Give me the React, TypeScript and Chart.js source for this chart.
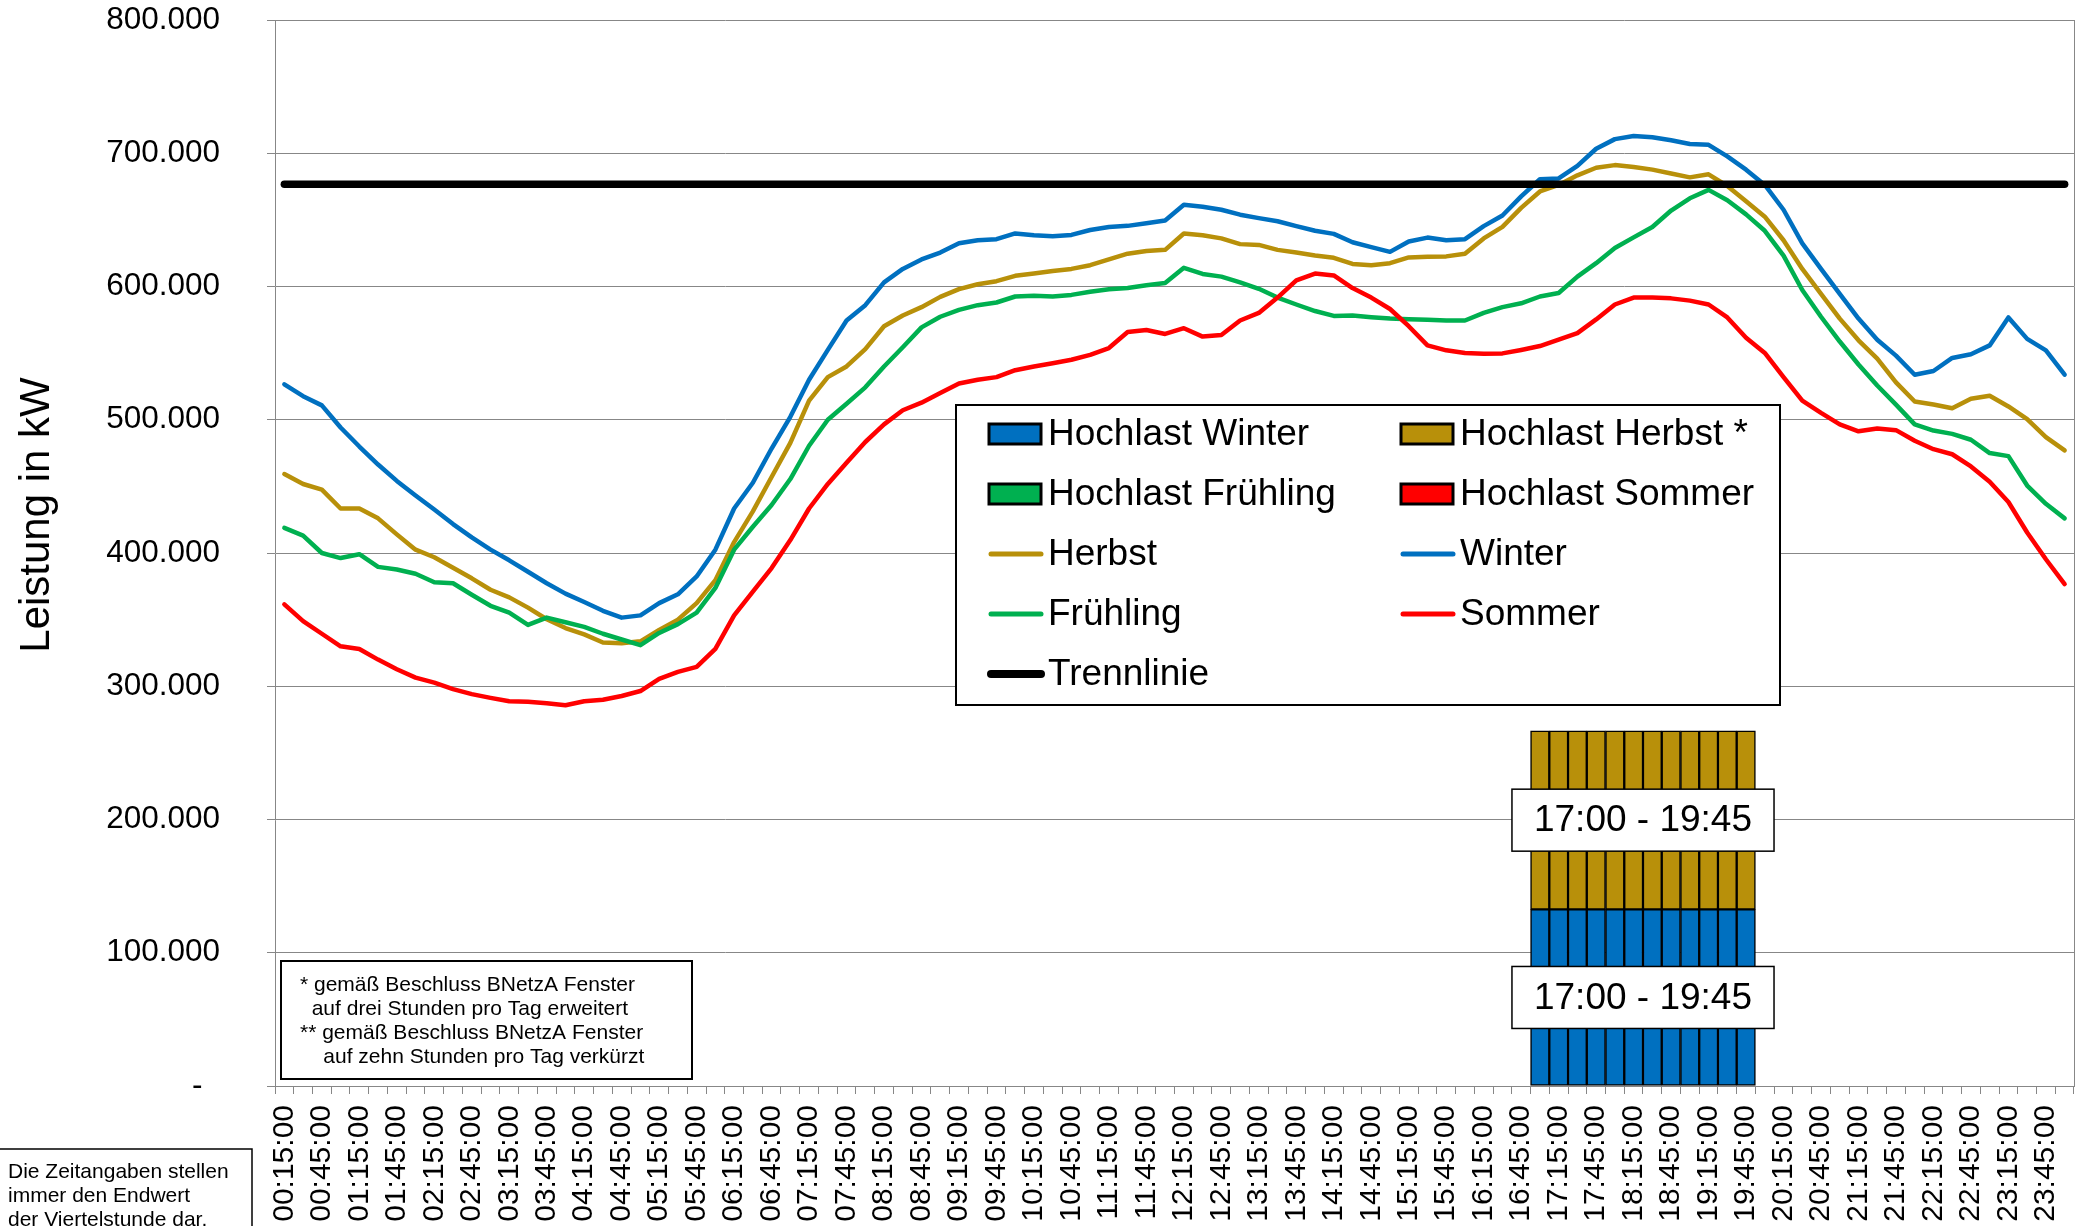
import React, { useEffect, useRef } from 'react';
import { Chart, registerables } from 'chart.js';

Chart.register(...registerables);

const FONT = "'Liberation Sans', Arial, Helvetica, sans-serif";
const GRID = '#878787';

const pad2 = (n: number) => (n < 10 ? '0' + n : String(n));
// quarter-hour end times 00:15:00 ... 24:00 (00:00:00)
const categories: string[] = Array.from({ length: 96 }, (_, k) => {
  const m = (k + 1) * 15;
  return `${pad2(Math.floor(m / 60) % 24)}:${pad2(m % 60)}:00`;
});

// series values in kW
const winter = [
  526600, 517700, 510800, 494200, 479900, 466400, 454100, 443200, 432600, 421700, 411700, 402500,
  394500, 385900, 377300, 369500, 363200, 356600, 351500, 353200, 362400, 369000, 382400, 402500,
  433400, 452700, 478400, 502200, 530000, 552400, 574500, 586000, 603100, 613200, 620300, 625500,
  632400, 634700, 635500, 639800, 638400, 637800, 638700, 642400, 644700, 645500, 647500, 649600,
  661300, 659900, 657600, 653900, 651300, 649000, 645300, 641800, 639500, 633200, 629500, 626000,
  633800, 636700, 634700, 635500, 645300, 653300, 667600, 680500, 681100, 690500, 703400, 710600,
  712900, 712000, 709700, 706900, 706300, 697700, 687700, 676200, 657600, 632400, 613200, 594500,
  575900, 560100, 548100, 533800, 536600, 546400, 549200, 555800, 576800, 560700, 552100, 533800,
];
const herbst = [
  459200, 451800, 447500, 433400, 433400, 426000, 414000, 402500, 396800, 389000, 381000, 372400,
  366700, 359000, 350300, 343700, 338900, 332800, 332300, 333700, 342300, 350000, 362400, 379600,
  408200, 431200, 457000, 482700, 514300, 532000, 540000, 553000, 570200, 578200, 584500, 592200,
  598000, 601700, 604000, 608000, 609700, 611700, 613200, 616000, 620300, 624600, 626600, 627500,
  639800, 638400, 636100, 631800, 631200, 627500, 625500, 623200, 621500, 616900, 616000, 617500,
  621800, 622300, 622600, 624600, 636100, 644700, 659000, 671300, 676200, 683400, 689100, 691100,
  689700, 687700, 684800, 681900, 684200, 675400, 663900, 652400, 634700, 613200, 594500, 575900,
  559600, 545800, 528000, 513700, 511400, 508600, 515700, 518000, 510000, 500500, 487000, 477000,
];
const fruehling = [
  418800, 413100, 400000, 396200, 399100, 389600, 387600, 384400, 378100, 377300, 368700, 360400,
  355200, 346000, 351500, 348000, 344600, 339400, 335100, 330800, 340000, 346600, 355200, 373800,
  402500, 419700, 436000, 455500, 480500, 500000, 512000, 524300, 540000, 554400, 569300, 577300,
  582500, 586000, 588000, 592500, 593000, 592500, 593700, 596000, 598000, 598900, 600900, 602600,
  614000, 609400, 607400, 603100, 598300, 591700, 586500, 581600, 577900, 578200, 577000, 576000,
  575500, 575000, 574500, 574500, 580200, 584500, 587400, 592500, 595100, 607400, 617500, 628900,
  636900, 644700, 657000, 666200, 672500, 664700, 654100, 641800, 623200, 597400, 577300, 558700,
  541500, 525700, 511400, 496500, 491900, 489400, 485000, 475000, 472700, 450600, 436900, 426000,
];
const sommer = [
  361500, 348900, 339400, 330000, 328000, 320000, 312800, 306500, 302700, 297900, 294100, 291300,
  288700, 288400, 287300, 285800, 288700, 289900, 292700, 296400, 305600, 310800, 314500, 328000,
  353200, 371000, 388700, 409700, 433400, 451800, 467800, 483300, 496500, 507100, 512800, 520000,
  527200, 530000, 532000, 537200, 540000, 542400, 545000, 548700, 553800, 565900, 567300, 564400,
  568700, 562400, 563600, 574500, 580200, 591700, 604600, 609700, 608300, 598800, 591700, 583100,
  570200, 555800, 552100, 550100, 549500, 549800, 552400, 555300, 560100, 565000, 575300, 586500,
  591700, 591700, 591100, 589400, 586500, 576800, 561600, 550100, 532000, 514300, 505100, 496500,
  491300, 493400, 492200, 484200, 477900, 474100, 465000, 453500, 438300, 415400, 395300, 376700,
];
const trennlinieValue = 676800;

// Hochlast window and bar heights
const hochlastStart = '17:00:00';
const hochlastEnd = '19:45:00';
const hochlastWinterValue = 132500;
const hochlastHerbstValue = 134000;

const yTicks = [0, 100000, 200000, 300000, 400000, 500000, 600000, 700000, 800000];

const startIdx = categories.indexOf(hochlastStart);
const endIdx = categories.indexOf(hochlastEnd);
const windowBars = (v: number | null) =>
  categories.map((_, i) => (v !== null && i >= startIdx && i <= endIdx ? v : null));
const barLabel = `${hochlastStart.slice(0, 5)} - ${hochlastEnd.slice(0, 5)}`;

const fmt = (v: number) => (v === 0 ? '-  ' : String(v).replace(/\B(?=(\d{3})+(?!\d))/g, '.'));

const COLORS = {
  winter: '#0070C0',
  herbst: '#B8900A',
  fruehling: '#00B050',
  sommer: '#FF0000',
  trenn: '#000000',
};

const overlay = {
  id: 'overlay',
  beforeDatasetsDraw(chart: any) {
    const { ctx, chartArea: ca } = chart;
    ctx.save();
    ctx.strokeStyle = GRID;
    ctx.lineWidth = 1;
    ctx.beginPath();
    ctx.moveTo(ca.right + 0.5, ca.top);
    ctx.lineTo(ca.right + 0.5, ca.bottom);
    ctx.stroke();
    ctx.restore();
  },
  afterDatasetsDraw(chart: any) {
    const { ctx } = chart;
    [0, 1].forEach((di) => {
      const meta = chart.getDatasetMeta(di);
      const a: any = meta.data[startIdx];
      const b: any = meta.data[endIdx];
      if (!a || !b) return;
      const cx = (a.x + b.x) / 2;
      const cy = (a.y + a.base) / 2;
      ctx.save();
      ctx.font = `37px ${FONT}`;
      const w = ctx.measureText(barLabel).width + 44;
      const h = 62;
      ctx.fillStyle = '#ffffff';
      ctx.fillRect(cx - w / 2, cy - h / 2, w, h);
      ctx.strokeStyle = '#000';
      ctx.lineWidth = 1.5;
      ctx.strokeRect(cx - w / 2, cy - h / 2, w, h);
      ctx.fillStyle = '#000';
      ctx.textAlign = 'center';
      ctx.textBaseline = 'middle';
      ctx.fillText(barLabel, cx, cy + 1);
      ctx.restore();
    });
  },
  afterDraw(chart: any) {
    const { ctx, chartArea: ca } = chart;
    ctx.save();
    // legend
    const lx = ca.left + 681;
    const ly = ca.top + 385;
    const lw = 824;
    const lh = 300;
    ctx.fillStyle = '#fff';
    ctx.fillRect(lx, ly, lw, lh);
    ctx.strokeStyle = '#000';
    ctx.lineWidth = 2;
    ctx.strokeRect(lx, ly, lw, lh);
    ctx.font = `37px ${FONT}`;
    ctx.textBaseline = 'middle';
    ctx.textAlign = 'left';
    const dsets = chart.data.datasets;
    const colSw = [33, 445];
    const colTx = [92, 504];
    dsets.forEach((ds: any, k: number) => {
      const r = Math.floor(k / 2);
      const c = k % 2;
      const y = ly + 29 + r * 60;
      const sx = lx + colSw[c];
      if (ds.type === 'bar') {
        ctx.fillStyle = ds.backgroundColor;
        ctx.fillRect(sx, y - 10, 52, 20);
        ctx.strokeStyle = '#000';
        ctx.lineWidth = 3;
        ctx.strokeRect(sx, y - 10, 52, 20);
      } else {
        ctx.strokeStyle = ds.borderColor;
        ctx.lineWidth = ds.borderWidth + 0.5;
        ctx.lineCap = 'round';
        ctx.beginPath();
        ctx.moveTo(sx + 2, y);
        ctx.lineTo(sx + 52, y);
        ctx.stroke();
      }
      ctx.fillStyle = '#000';
      ctx.fillText(ds.label, lx + colTx[c], y + 1);
    });

    // footnote box
    const fx = ca.left + 6;
    const fy = ca.bottom - 125;
    ctx.fillStyle = '#fff';
    ctx.fillRect(fx, fy, 411, 118);
    ctx.strokeStyle = '#000';
    ctx.lineWidth = 2;
    ctx.strokeRect(fx, fy, 411, 118);
    ctx.fillStyle = '#000';
    ctx.font = `21px ${FONT}`;
    const fn = [
      '* gemäß Beschluss BNetzA Fenster',
      '  auf drei Stunden pro Tag erweitert',
      '** gemäß Beschluss BNetzA Fenster',
      '    auf zehn Stunden pro Tag verkürzt',
    ];
    fn.forEach((t, i) => ctx.fillText(t, fx + 19, fy + 24 + i * 24));

    // note box bottom left
    ctx.strokeStyle = '#000';
    ctx.lineWidth = 1.5;
    ctx.strokeRect(-1, 1149, 253, 100);
    const nt = ['Die Zeitangaben stellen', 'immer den Endwert', 'der Viertelstunde dar.'];
    nt.forEach((t, i) => ctx.fillText(t, 8, 1172 + i * 24));

    // y title
    ctx.translate(37, 515);
    ctx.rotate(-Math.PI / 2);
    ctx.textAlign = 'center';
    ctx.font = `42px ${FONT}`;
    ctx.fillText('Leistung in kW', 0, 0);
    ctx.restore();
  },
};

const lineDs = (label: string, data: number[], color: string, order: number, width = 4.5) => ({
  type: 'line' as const,
  label,
  data,
  borderColor: color,
  backgroundColor: color,
  borderWidth: width,
  pointRadius: 0,
  pointHoverRadius: 0,
  tension: 0,
  fill: false,
  borderJoinStyle: 'round' as const,
  borderCapStyle: 'round' as const,
  stack: 'line-' + label,
  order,
});

const barDs = (label: string, data: (number | null)[], color: string) => ({
  type: 'bar' as const,
  label,
  data,
  backgroundColor: color,
  borderColor: '#000000',
  borderWidth: 1.5,
  borderSkipped: false,
  barPercentage: 1,
  categoryPercentage: 1,
  stack: 'hochlast',
  order: 5,
});

export default function App() {
  const ref = useRef<HTMLCanvasElement>(null);
  useEffect(() => {
    if (!ref.current) return;
    const chart = new Chart(ref.current, {
      type: 'bar',
      data: {
        labels: categories,
        datasets: [
          barDs('Hochlast Winter', windowBars(hochlastWinterValue), COLORS.winter),
          barDs('Hochlast Herbst *', windowBars(hochlastHerbstValue), COLORS.herbst),
          barDs('Hochlast Frühling', windowBars(null), COLORS.fruehling),
          barDs('Hochlast Sommer', windowBars(null), COLORS.sommer),
          lineDs('Herbst', herbst, COLORS.herbst, 4),
          lineDs('Winter', winter, COLORS.winter, 3),
          lineDs('Frühling', fruehling, COLORS.fruehling, 2),
          lineDs('Sommer', sommer, COLORS.sommer, 1),
          lineDs('Trennlinie', categories.map(() => trennlinieValue), COLORS.trenn, 0, 7.5),
        ] as any,
      },
      options: {
        animation: false,
        responsive: false,
        events: [],
        layout: { padding: { left: 0, top: 20, right: 8, bottom: 0 } },
        plugins: {
          legend: { display: false },
          tooltip: { enabled: false },
          title: { display: false },
        },
        scales: {
          x: {
            type: 'category',
            offset: true,
            grid: {
              display: true,
              drawOnChartArea: false,
              drawTicks: true,
              tickLength: 8,
              color: GRID,
              offset: true,
            },
            border: { display: true, color: GRID, width: 1 },
            ticks: {
              autoSkip: false,
              minRotation: 90,
              maxRotation: 90,
              padding: 11,
              color: '#000',
              font: { family: FONT, size: 30 },
              callback: (_v: any, i: number) => (i % 2 === 0 ? categories[i] : ''),
            },
            afterFit: (s: any) => {
              s.height = 140;
              s.paddingLeft = 0;
              s.paddingRight = 0;
            },
          },
          y: {
            stacked: true,
            min: 0,
            max: 800000,
            afterBuildTicks: (s: any) => {
              s.ticks = yTicks.map((v) => ({ value: v }));
            },
            grid: { color: GRID, lineWidth: 1, tickLength: 8, drawTicks: true },
            border: { display: true, color: GRID, width: 1 },
            ticks: {
              padding: 47,
              color: '#000',
              font: { family: FONT, size: 31.5 },
              callback: (v: any) => fmt(Number(v)),
            },
            afterFit: (s: any) => {
              s.width = 275;
              s.paddingTop = 0;
              s.paddingBottom = 0;
            },
          },
        },
      } as any,
      plugins: [overlay],
    });
    return () => chart.destroy();
  }, []);
  return (
    <div style={{ position: 'absolute', left: 0, top: 0, width: 2082, height: 1226, background: '#fff' }}>
      <canvas ref={ref} width={2082} height={1226} style={{ width: 2082, height: 1226, display: 'block' }} />
    </div>
  );
}
